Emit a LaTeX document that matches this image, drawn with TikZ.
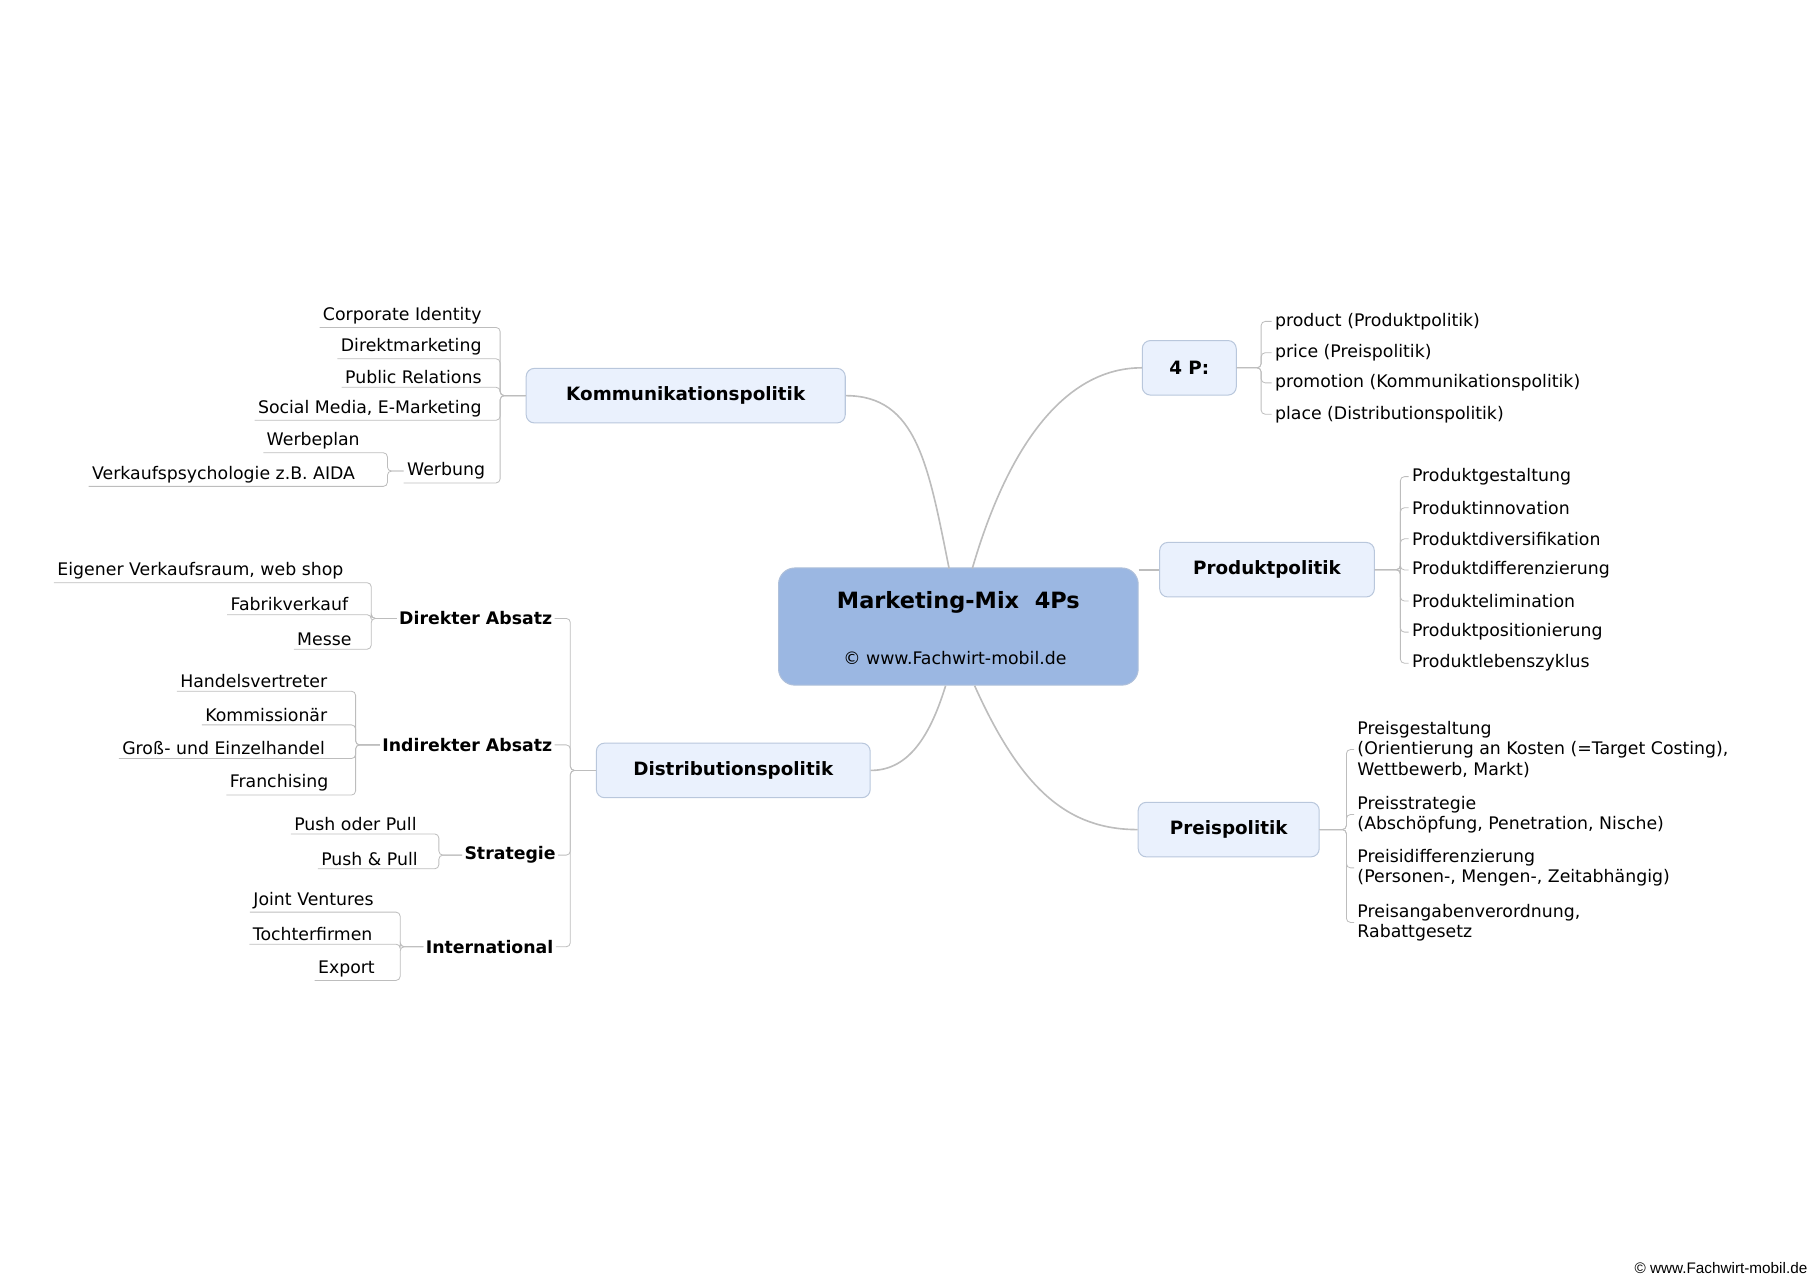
\documentclass[tikz,border=0pt]{standalone}
\usepackage{fontspec}
\setmainfont{DejaVu Sans}
\newfontfamily\footfont{Liberation Sans}
\definecolor{hubfill}{HTML}{9BB7E2}
\definecolor{hubline}{HTML}{AFC0DA}
\definecolor{topfill}{HTML}{EAF1FD}
\definecolor{topline}{HTML}{B9C7DC}
\definecolor{twig}{HTML}{BDBDBD}

\begin{document}
\begin{tikzpicture}[x=0.02cm, y=-0.02cm,
    hub/.style = {draw=hubline, fill=hubfill, rounded corners=8, line width=0.5pt,
                  minimum width=310*0.02cm, minimum height=101*0.02cm},
    topic/.style = {draw=topline, fill=topfill, rounded corners=4, line width=0.5pt,
                    font=\fontsize{9}{11}\selectfont\bfseries, minimum height=47*0.02cm},
    sub/.style = {font=\fontsize{8.5}{10}\selectfont\bfseries, inner sep=1pt, anchor=east},
    leafl/.style = {font=\fontsize{8.5}{10}\selectfont, inner sep=1.5pt, anchor=east},
    leafr/.style = {font=\fontsize{8.5}{10}\selectfont, inner sep=1.5pt, anchor=west, align=left},
    branch/.style = {draw=twig, line width=0.8pt},
    twigs/.style = {draw=twig, line width=0.4pt, rounded corners=2}]
    \useasboundingbox (0, 0) rectangle (1560, 1103);

    % centre
    \node[hub] (mm) at (826, 540) {};
    \node[font=\fontsize{11}{13}\selectfont\bfseries] at (826, 519) {Marketing-Mix\ \ 4Ps};
    \node[font=\fontsize{8.5}{10}\selectfont] at (823, 567) {© www.Fachwirt-mobil.de};

    % main topics
    \node[topic, minimum width=275*0.02cm] (kom) at (591, 341) {Kommunikationspolitik};
    \node[topic, minimum width=81*0.02cm] (vierp) at (1025, 317) {4 P:};
    \node[topic, minimum width=185*0.02cm] (prod) at (1092, 491) {Produktpolitik};
    \node[topic, minimum width=156*0.02cm] (preis) at (1059, 715) {Preispolitik};
    \node[topic, minimum width=236*0.02cm] (dist) at (632, 664) {Distributionspolitik};

    \draw[branch] (818, 490) .. controls (800, 400) and (790, 341) .. (kom.east);
    \draw[branch] (838, 490) .. controls (870, 380) and (920, 317) .. (vierp.west);
    \draw[branch] (mm.east |- prod.west) -- (prod.west);
    \draw[branch] (840, 591) .. controls (880, 680) and (920, 715) .. (preis.west);
    \draw[branch] (815, 591) .. controls (800, 640) and (780, 664) .. (dist.east);

    % Kommunikationspolitik
    \node[leafl] (k1) at (418, 272) {Corporate Identity};
    \node[leafl] (k2) at (418, 299) {Direktmarketing};
    \node[leafl] (k3) at (418, 325) {Public Relations};
    \node[leafl] (k4) at (418, 352) {Social Media, E-Marketing};
    \node[leafl] (k5) at (421, 406) {Werbung};
    \node[leafl] (w1) at (313, 380) {Werbeplan};
    \node[leafl] (w2) at (309, 409) {Verkaufspsychologie z.B. AIDA};
    \foreach \n in {k1, k2, k3, k4, k5}
      \draw[twigs] (kom.west) -- ++(-22, 0) |- (\n.south east) -- (\n.south west);
    \foreach \n in {w1, w2}
      \draw[twigs] (k5.west) -- ++(-14, 0) |- (\n.south east) -- (\n.south west);

    % 4 P
    \node[leafr] (p1) at (1096, 277) {product (Produktpolitik)};
    \node[leafr] (p2) at (1096, 304) {price (Preispolitik)};
    \node[leafr] (p3) at (1096, 330) {promotion (Kommunikationspolitik)};
    \node[leafr] (p4) at (1096, 357) {place (Distributionspolitik)};
    \foreach \n in {p1, p2, p3, p4}
      \draw[twigs] (vierp.east) -- ++(21, 0) |- (\n.west);

    % Produktpolitik
    \foreach \t [count=\i] in {Produktgestaltung, Produktinnovation, Produktdiversifikation,
        Produktdifferenzierung, Produktelimination, Produktpositionierung, Produktlebenszyklus} {
      \node[leafr] (r\i) at (1214, 384 + 26.8*\i) {\t};
      \draw[twigs] (prod.east) -- ++(22, 0) |- (r\i.west);
    }

    % Preispolitik
    \node[leafr] (e1) at (1167, 646) {Preisgestaltung\\(Orientierung an Kosten (=Target Costing),\\Wettbewerb, Markt)};
    \node[leafr] (e2) at (1167, 702) {Preisstrategie\\(Abschöpfung, Penetration, Nische)};
    \node[leafr] (e3) at (1167, 748) {Preisidifferenzierung\\(Personen-, Mengen-, Zeitabhängig)};
    \node[leafr] (e4) at (1167, 795) {Preisangabenverordnung,\\Rabattgesetz};
    \foreach \n in {e1, e2, e3, e4}
      \draw[twigs] (preis.east) -- ++(23, 0) |- (\n.west);

    % Distributionspolitik
    \node[sub] (d1) at (478, 533) {Direkter Absatz};
    \node[sub] (d2) at (478, 642) {Indirekter Absatz};
    \node[sub] (d3) at (481, 737) {Strategie};
    \node[sub] (d4) at (479, 816) {International};
    \foreach \n in {d1, d2, d3, d4}
      \draw[twigs] (dist.west) -- ++(-22, 0) |- (\n.east);

    \node[leafl] (a1) at (299, 492) {Eigener Verkaufsraum, web shop};
    \node[leafl] (a2) at (303, 521) {Fabrikverkauf};
    \node[leafl] (a3) at (306, 551) {Messe};
    \foreach \n in {a1, a2, a3}
      \draw[twigs] (d1.west) -- ++(-22, 0) |- (\n.south east) -- (\n.south west);

    \node[leafl] (b1) at (285, 587) {Handelsvertreter};
    \node[leafl] (b2) at (285, 616) {Kommissionär};
    \node[leafl] (b3) at (283, 645) {Groß- und Einzelhandel};
    \node[leafl] (b4) at (286, 675) {Franchising};
    \foreach \n in {b1, b2, b3, b4}
      \draw[twigs] (d2.west) -- ++(-21, 0) |- (\n.south east) -- (\n.south west);

    \node[leafl] (s1) at (362, 710) {Push oder Pull};
    \node[leafl] (s2) at (363, 740) {Push \& Pull};
    \foreach \n in {s1, s2}
      \draw[twigs] (d3.west) -- ++(-20, 0) |- (\n.south east) -- (\n.south west);

    \node[leafl] (i1) at (325, 776) {Joint Ventures};
    \node[leafl] (i2) at (324, 805) {Tochterfirmen};
    \node[leafl] (i3) at (326, 835) {Export};
    \foreach \n in {i1, i2, i3}
      \draw[twigs] (d4.west) -- ++(-20, 0) |- (\n.south east) -- (\n.south west);

    % footer
    \node[anchor=east, inner sep=0pt, font=\footfont\fontsize{7.5}{9}\selectfont] (foot) at (1558, 1093) {© www.Fachwirt-mobil.de};
\end{tikzpicture}
\end{document}
